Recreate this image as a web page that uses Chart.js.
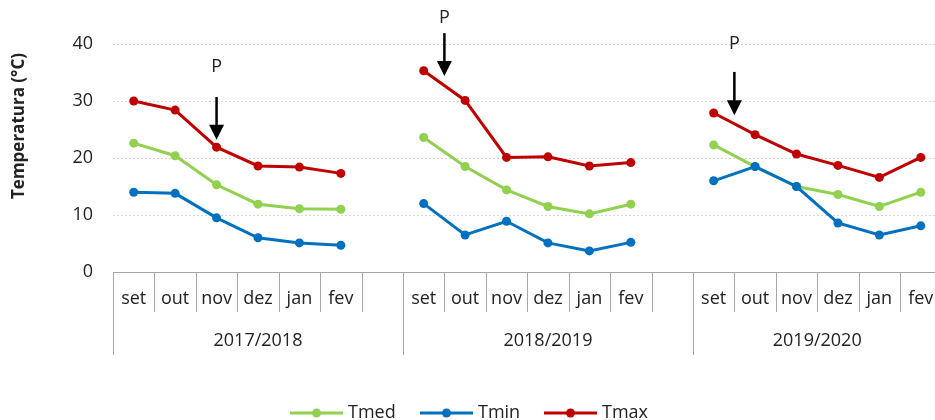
<!DOCTYPE html>
<html>
<head>
<meta charset="utf-8">
<script src="https://cdn.jsdelivr.net/npm/chart.js@4"></script>
<style>
    html, body { margin: 0; padding: 0; background: #fff; overflow: hidden; }
    #wrap { width: 946px; height: 420px; }
</style>
</head>
<body>
<div id="wrap"><canvas id="tempChart"></canvas></div>
<script>
const months = ['set', 'out', 'nov', 'dez', 'jan', 'fev'];
const seasons = ['2017/2018', '2018/2019', '2019/2020'];

// null = empty column between seasons
const tmed = [22.6, 20.4, 15.3, 11.9, 11.1, 11.0, null,
              23.6, 18.5, 14.4, 11.5, 10.2, 11.9, null,
              22.3, 18.5, 15.0, 13.6, 11.5, 14.0];
const tmin = [14.0, 13.8, 9.5, 6.0, 5.1, 4.7, null,
              12.0, 6.5, 8.9, 5.1, 3.7, 5.2, null,
              16.0, 18.5, 15.0, 8.6, 6.5, 8.1];
const tmax = [30.0, 28.4, 21.9, 18.6, 18.4, 17.3, null,
              35.3, 30.1, 20.1, 20.2, 18.6, 19.2, null,
              27.9, 24.1, 20.7, 18.7, 16.6, 20.1];
const yTicks = [0, 10, 20, 30, 40];

// "P" arrows: x in category units, tails/tips in °C
const arrows = [
    { x: 2, top: 30.7, tip: 23.2, text: 36.0 },
    { x: 7.5, top: 41.9, tip: 34.4, text: 44.6 },
    { x: 14.5, top: 35.1, tip: 27.5, text: 40.0 }
];

const FONT = '"Open Sans", "Noto Sans", sans-serif';
const GREY = '#a6a6a6';

const labels = [];
seasons.forEach((s, i) => {
    months.forEach(m => labels.push(m));
    if (i < seasons.length - 1) labels.push('');
});

const series = [
    { label: 'Tmed', data: tmed, color: '#92d050', order: 3 },
    { label: 'Tmin', data: tmin, color: '#0070c0', order: 2 },
    { label: 'Tmax', data: tmax, color: '#c00000', order: 1 }
];

const decorations = {
    id: 'decorations',
    afterDraw(chart) {
        const ctx = chart.ctx;
        const area = chart.chartArea;
        const x = chart.scales.x;
        const y = chart.scales.y;
        const w = (area.right - area.left) / labels.length;
        ctx.save();

        // category axis boxes
        ctx.strokeStyle = GREY;
        ctx.lineWidth = 1;
        ctx.beginPath();
        ctx.moveTo(area.left, area.bottom + 0.5);
        ctx.lineTo(area.right, area.bottom + 0.5);
        const groupEdges = [0, 7, 14, 20];
        for (let i = 0; i <= labels.length; i++) {
            const px = Math.round(area.left + i * w) + 0.5;
            ctx.moveTo(px, area.bottom);
            ctx.lineTo(px, groupEdges.includes(i) ? area.bottom + 83 : area.bottom + 40);
        }
        ctx.stroke();

        ctx.fillStyle = '#222';
        ctx.font = '18px ' + FONT;
        ctx.textAlign = 'center';
        ctx.textBaseline = 'middle';
        labels.forEach((l, i) => {
            if (l) ctx.fillText(l, x.getPixelForValue(i), area.bottom + 27);
        });
        seasons.forEach((s, i) => {
            const a = groupEdges[i], b = groupEdges[i + 1];
            ctx.fillText(s, area.left + (a + b) / 2 * w, area.bottom + 69);
        });

        // y title
        ctx.save();
        ctx.translate(19, 126);
        ctx.rotate(-Math.PI / 2);
        ctx.font = 'bold 17px ' + FONT;
        ctx.fillText('Temperatura (°C)', 0, 0);
        ctx.restore();

        // arrows
        arrows.forEach(a => {
            const px = x.getPixelForValue(a.x);
            const top = y.getPixelForValue(a.top);
            const tip = y.getPixelForValue(a.tip);
            ctx.strokeStyle = '#000';
            ctx.lineWidth = 2.5;
            ctx.beginPath();
            ctx.moveTo(px, top);
            ctx.lineTo(px, tip - 12);
            ctx.stroke();
            ctx.fillStyle = '#000';
            ctx.beginPath();
            ctx.moveTo(px - 7.5, tip - 15);
            ctx.lineTo(px + 7.5, tip - 15);
            ctx.lineTo(px, tip);
            ctx.closePath();
            ctx.fill();
            ctx.fillStyle = '#222';
            ctx.font = '18px ' + FONT;
            ctx.fillText('P', px, y.getPixelForValue(a.text));
        });

        // legend
        const legendX = [290, 420, 544];
        const ly = 413;
        series.forEach((s, i) => {
            const lx = legendX[i];
            ctx.strokeStyle = s.color;
            ctx.lineWidth = 3;
            ctx.beginPath();
            ctx.moveTo(lx, ly);
            ctx.lineTo(lx + 53, ly);
            ctx.stroke();
            ctx.fillStyle = s.color;
            ctx.beginPath();
            ctx.arc(lx + 26.5, ly, 4.5, 0, Math.PI * 2);
            ctx.fill();
            ctx.fillStyle = '#222';
            ctx.textAlign = 'left';
            ctx.fillText(s.label, lx + 58, ly);
        });
        ctx.restore();
    }
};

new Chart(document.getElementById('tempChart'), {
    type: 'line',
    data: {
        labels: labels,
        datasets: series.map(s => ({
            label: s.label,
            data: s.data,
            order: s.order,
            borderColor: s.color,
            backgroundColor: s.color,
            borderWidth: 3,
            pointRadius: 4.5,
            pointHoverRadius: 4.5,
            pointBorderWidth: 0,
            spanGaps: false,
            tension: 0
        }))
    },
    options: {
        responsive: true,
        maintainAspectRatio: false,
        animation: false,
        layout: { padding: { top: 44, left: 0, right: 0, bottom: 0 } },
        plugins: {
            legend: { display: false },
            tooltip: { enabled: false }
        },
        scales: {
            x: {
                offset: true,
                ticks: { display: false },
                grid: { display: false },
                border: { display: false },
                afterFit: s => { s.height = 148; }
            },
            y: {
                min: yTicks[0],
                max: yTicks[yTicks.length - 1],
                afterFit: s => { s.width = 113; },
                afterBuildTicks: s => { s.ticks = yTicks.map(v => ({ value: v })); },
                ticks: {
                    padding: 20,
                    color: '#222',
                    font: { family: FONT, size: 18 }
                },
                grid: {
                    drawTicks: false,
                    color: ctx => ctx.tick.value === 0 ? 'rgba(0,0,0,0)' : '#d6d6d6'
                },
                border: { display: false, dash: [2, 2] }
            }
        }
    },
    plugins: [decorations]
});
</script>
</body>
</html>
